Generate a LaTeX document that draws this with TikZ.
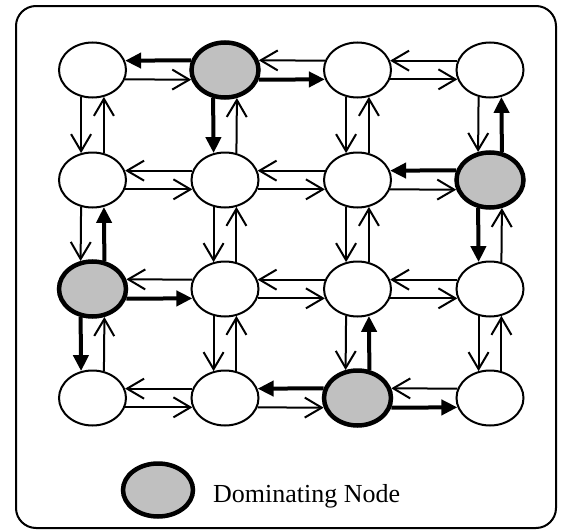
\documentclass[tikz,border=0pt]{standalone}
\usepackage{fontspec}
\setmainfont{Liberation Serif}
\usetikzlibrary{arrows.meta,shapes.geometric}

\tikzset{
  plain/.style={ellipse,draw,line width=2pt,minimum width=67pt,minimum height=55pt,inner sep=0pt,fill=white},
  dom/.style={plain,line width=4.5pt,fill=domgray},
  link/.style={line width=2pt,-{Straight Barb[length=17pt,width=20pt]}},
  domlink/.style={line width=4pt,-{Triangle[length=16pt,width=15pt]}}
}
\definecolor{domgray}{RGB}{192,192,192}

% pair of left/right arrows: top one goes right-to-left
\newcommand{\hpair}[4]{
  \draw[#3] (#2.164) -- (#1.16);
  \draw[#4] (#1.-16) -- (#2.196);
}
% pair of up/down arrows: left one goes down
\newcommand{\vpair}[4]{
  \draw[#3] (#1.247) -- (#2.113);
  \draw[#4] (#2.67) -- (#1.293);
}

\begin{document}
\begin{tikzpicture}[x=1pt,y=-1pt]
  \useasboundingbox (0,0) rectangle (563,530);
  \draw[line width=2pt,rounded corners=20pt] (16,6) rectangle (556,528);

  % grid of nodes
  \node[plain] (n11) at (92.5,70) {};
  \node[dom]   (n12) at (225,70) {};
  \node[plain] (n13) at (357.5,70) {};
  \node[plain] (n14) at (490,70) {};
  \node[plain] (n21) at (92.5,180) {};
  \node[plain] (n22) at (225,180) {};
  \node[plain] (n23) at (357.5,180) {};
  \node[dom]   (n24) at (490,180) {};
  \node[dom]   (n31) at (92.5,289) {};
  \node[plain] (n32) at (225,289) {};
  \node[plain] (n33) at (357.5,289) {};
  \node[plain] (n34) at (490,289) {};
  \node[plain] (n41) at (92.5,398) {};
  \node[plain] (n42) at (225,398) {};
  \node[dom]   (n43) at (357.5,398) {};
  \node[plain] (n44) at (490,398) {};

  % rows
  \hpair{n11}{n12}{domlink}{link}
  \hpair{n12}{n13}{link}{domlink}
  \hpair{n13}{n14}{link}{link}
  \hpair{n21}{n22}{link}{link}
  \hpair{n22}{n23}{link}{link}
  \hpair{n23}{n24}{domlink}{link}
  \hpair{n31}{n32}{link}{domlink}
  \hpair{n32}{n33}{link}{link}
  \hpair{n33}{n34}{link}{link}
  \hpair{n41}{n42}{link}{link}
  \hpair{n42}{n43}{domlink}{link}
  \hpair{n43}{n44}{link}{domlink}

  % columns
  \vpair{n11}{n21}{link}{link}
  \vpair{n21}{n31}{link}{domlink}
  \vpair{n31}{n41}{domlink}{link}
  \vpair{n12}{n22}{domlink}{link}
  \vpair{n22}{n32}{link}{link}
  \vpair{n32}{n42}{link}{link}
  \vpair{n13}{n23}{link}{link}
  \vpair{n23}{n33}{link}{link}
  \vpair{n33}{n43}{link}{domlink}
  \vpair{n14}{n24}{link}{domlink}
  \vpair{n24}{n34}{domlink}{link}
  \vpair{n34}{n44}{link}{link}

  % legend
  \node[dom,minimum width=70pt,minimum height=53pt] (key) at (158,490) {};
  \node[anchor=base west,inner sep=0pt,font=\fontsize{26}{30}\selectfont] (keytext) at (213,502) {Dominating Node};
\end{tikzpicture}
\end{document}
